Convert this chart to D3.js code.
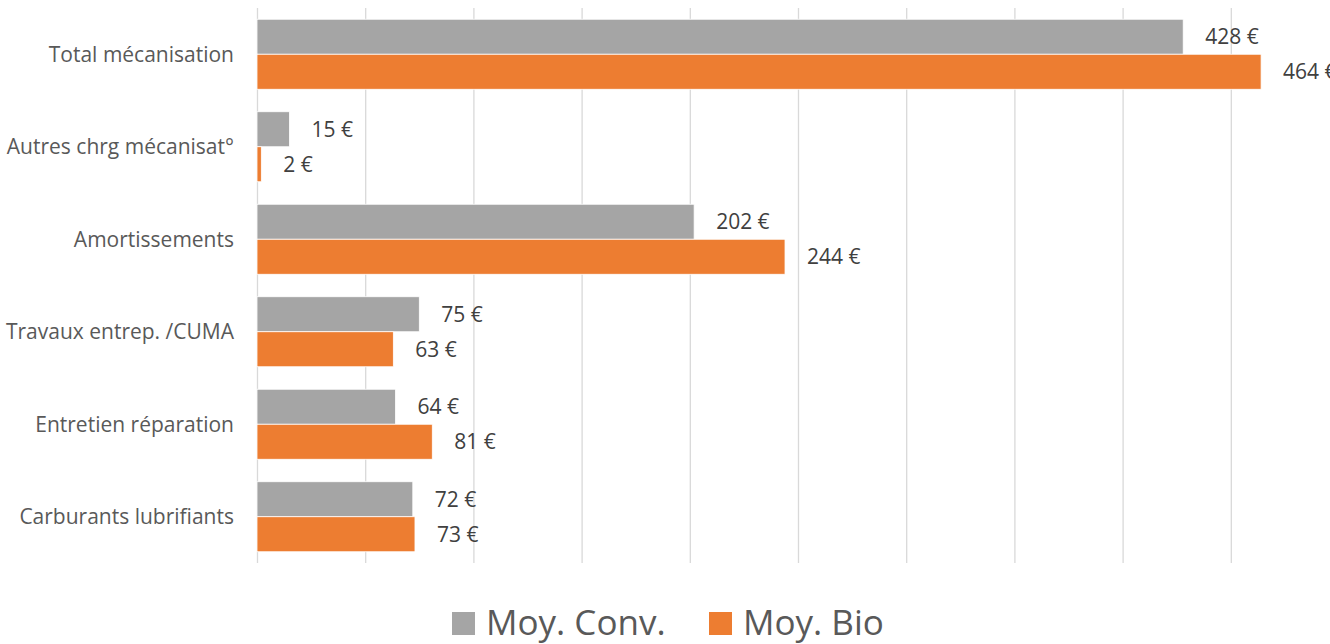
<!DOCTYPE html>
<html>
<head>
<meta charset="utf-8">
<script src="https://cdn.jsdelivr.net/npm/d3@7"></script>
<style>
  html, body { margin: 0; padding: 0; background: #fff; overflow: hidden; }
  svg { display: block; font-family: "Open Sans", "DejaVu Sans", sans-serif; }
</style>
</head>
<body>
<script>
// data
var categories = ["Total mécanisation", "Autres chrg mécanisat°", "Amortissements",
                  "Travaux entrep. /CUMA", "Entretien réparation", "Carburants lubrifiants"];
var seriesNames = ["Moy. Conv.", "Moy. Bio"];
var convValues = [428, 15, 202, 75, 64, 72];
var bioValues = [464, 2, 244, 63, 81, 73];
var gridTicks = [0, 50, 100, 150, 200, 250, 300, 350, 400, 450];

var colors = ["#a5a5a5", "#ed7d31"];
var textColor = "#595959";

var W = 1330, H = 644;
var plot = {left: 257, top: 8, bottom: 563};

var rows = categories.map(function(c, i) {
    return {cat: c, vals: [convValues[i], bioValues[i]]};
});

var svg = d3.select("body").append("svg")
    .attr("width", W)
    .attr("height", H);

// x axis goes past the window on the right (last label gets cut like the original)
var x = d3.scaleLinear()
    .domain([0, 500])
    .range([plot.left, 1339]);

var y = d3.scaleBand()
    .domain(categories)
    .range([plot.top, plot.bottom])
    .paddingInner(0.243)
    .paddingOuter(0.1215);

var ySub = d3.scaleBand()
    .domain([0, 1])
    .range([0, y.bandwidth()]);

// gridlines
var grid = svg.append("g")
    .attr("class", "grid")
    .attr("transform", "translate(0," + plot.bottom + ")")
    .call(d3.axisBottom(x).tickValues(gridTicks).tickSize(-(plot.bottom - plot.top)).tickFormat(""));
grid.select(".domain").remove();
grid.selectAll("line").attr("stroke", "#d9d9d9").attr("stroke-width", 1.3);

// category labels
svg.append("g")
    .selectAll("text")
    .data(categories)
    .enter().append("text")
        .attr("x", 234)
        .attr("y", function(d) { return y(d) + y.bandwidth() / 2; })
        .attr("dy", "0.35em")
        .attr("text-anchor", "end")
        .attr("fill", textColor)
        .attr("font-size", "21px")
        .text(function(d) { return d; });

// bars
var groups = svg.append("g")
    .selectAll("g")
    .data(rows)
    .enter().append("g")
        .attr("transform", function(d) { return "translate(0," + y(d.cat) + ")"; });

groups.selectAll("rect")
    .data(function(d) { return d.vals; })
    .enter().append("rect")
        .attr("x", x(0))
        .attr("y", function(d, i) { return ySub(i); })
        .attr("width", function(d) { return x(d) - x(0); })
        .attr("height", ySub.bandwidth())
        .attr("fill", function(d, i) { return colors[i]; })
        .attr("stroke", "#fff")
        .attr("stroke-width", 0.8);

// value labels
groups.selectAll("text")
    .data(function(d) { return d.vals; })
    .enter().append("text")
        .attr("x", function(d) { return x(d) + 22; })
        .attr("y", function(d, i) { return ySub(i) + ySub.bandwidth() / 2; })
        .attr("dy", "0.35em")
        .attr("fill", "#404040")
        .attr("font-size", "21px")
        .text(function(d) { return d + " €"; });

// legend
var legend = svg.append("g").attr("transform", "translate(0,635)");
var legX = [452, 709];
seriesNames.forEach(function(name, i) {
    legend.append("rect")
        .attr("x", legX[i])
        .attr("y", -23)
        .attr("width", 23)
        .attr("height", 23)
        .attr("fill", colors[i]);
    legend.append("text")
        .attr("x", legX[i] + 34)
        .attr("y", 0)
        .attr("fill", textColor)
        .attr("font-size", "35px")
        .text(name);
});
</script>
</body>
</html>
